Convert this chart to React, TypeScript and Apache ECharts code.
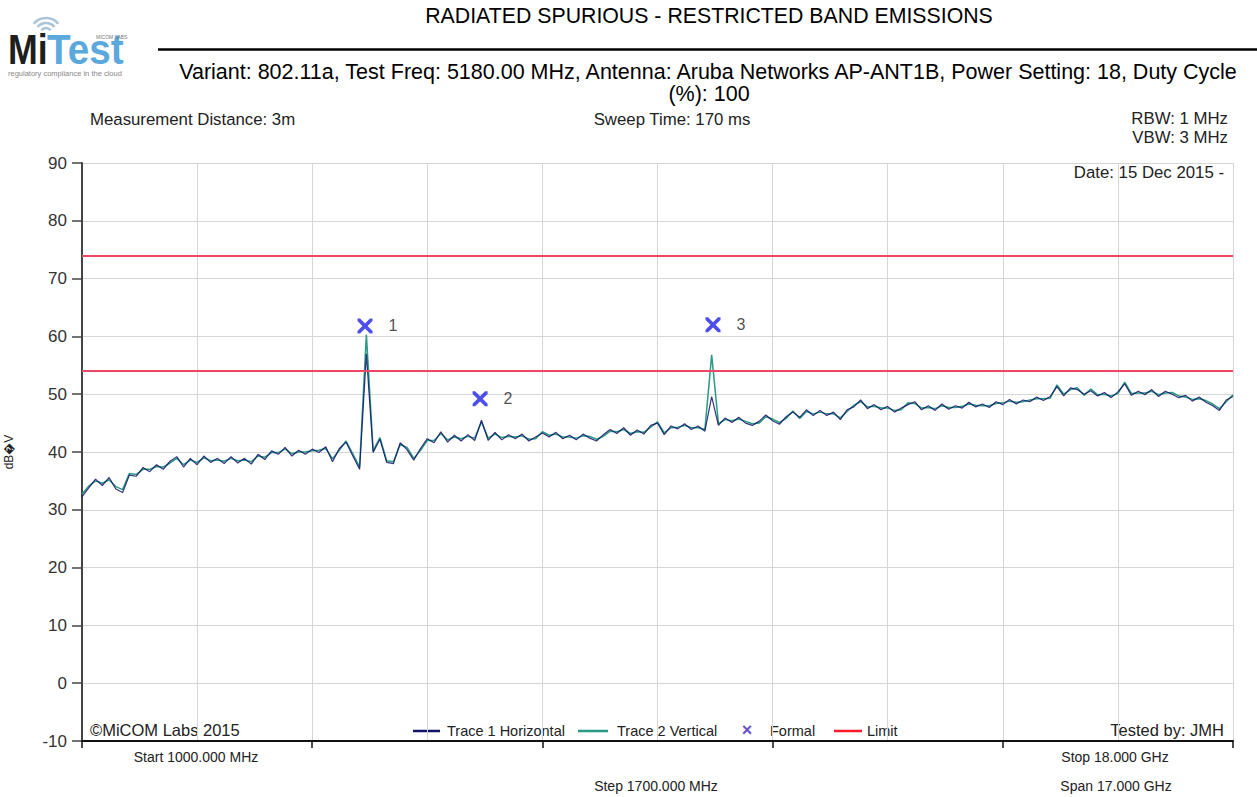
import React, { useEffect, useRef } from "react";
import * as echarts from "echarts";

// ---------- data ----------
const START_MHZ = 1000;
const STOP_MHZ = 18000;
const GRID_STEP_MHZ = 1700;
const TICK_STEP_MHZ = 3400;
const SAMPLE_STEP_MHZ = 100;

const yTicksMin = -10;
const yTicksMax = 90;
const yTickStep = 10;

// Trace 1 Horizontal (dBuV), one sample every 100 MHz from 1000 MHz
const trace1Horizontal = [
  32.3, 33.8, 35.3, 34.2, 35.6, 33.6, 33.0, 36.0, 35.8, 37.3,
  36.6, 37.8, 37.0, 38.4, 39.2, 37.4, 38.9, 37.8, 39.3, 38.2,
  38.9, 38.0, 39.2, 38.1, 38.9, 37.9, 39.6, 38.7, 40.2, 39.6,
  40.8, 39.3, 40.3, 39.6, 40.5, 39.9, 40.9, 38.3, 40.6, 41.7,
  39.3, 37.0, 57.0, 39.9, 42.2, 38.2, 38.0, 41.6, 40.4, 38.6,
  40.6, 42.3, 41.6, 43.5, 41.7, 42.9, 41.9, 43.0, 42.0, 45.5,
  42.0, 43.4, 42.1, 43.0, 42.3, 43.1, 41.9, 42.6, 43.3, 42.6,
  43.4, 42.3, 42.9, 42.1, 43.1, 42.4, 41.9, 43.0, 43.9, 43.2,
  44.2, 42.9, 43.8, 43.1, 44.6, 45.0, 43.0, 44.5, 44.0, 44.9,
  43.9, 44.5, 43.6, 49.6, 44.6, 45.9, 45.1, 46.0, 45.0, 44.6,
  45.3, 46.4, 45.4, 44.8, 46.1, 46.9, 46.0, 47.3, 46.3, 47.2,
  46.3, 46.9, 45.6, 47.3, 47.8, 49.0, 47.5, 48.2, 47.3, 47.9,
  46.9, 47.6, 48.2, 48.7, 47.3, 48.0, 47.2, 48.3, 47.4, 48.0,
  47.6, 48.6, 47.8, 48.3, 47.7, 48.7, 48.2, 49.1, 48.3, 49.0,
  48.7, 49.5, 48.9, 49.6, 51.3, 49.7, 51.1, 50.8, 50.0, 50.6,
  49.7, 50.3, 49.4, 50.4, 51.8, 49.8, 50.5, 49.9, 50.8, 49.6,
  50.5, 50.0, 49.4, 49.8, 48.8, 49.5, 48.6, 48.0, 47.2, 49.0,
  49.6,
];

// Trace 2 Vertical (dBuV)
const trace2Vertical = [
  32.7, 34.1, 35.0, 34.6, 35.2, 34.0, 33.5, 36.3, 36.1, 37.0,
  37.0, 37.5, 37.4, 38.1, 38.9, 37.8, 38.6, 38.2, 39.0, 38.5,
  38.6, 38.4, 38.9, 38.5, 38.6, 38.3, 39.3, 39.1, 39.9, 39.9,
  40.5, 39.7, 40.0, 40.0, 40.2, 40.3, 40.6, 38.8, 40.3, 41.9,
  39.7, 37.4, 60.3, 40.2, 42.5, 38.5, 38.3, 41.3, 40.8, 38.9,
  40.3, 42.0, 42.0, 43.2, 42.1, 42.6, 42.3, 42.7, 42.4, 45.2,
  42.4, 43.1, 42.5, 42.7, 42.6, 42.8, 42.2, 42.3, 43.5, 42.9,
  43.1, 42.6, 42.6, 42.4, 42.8, 42.7, 42.2, 42.7, 43.6, 43.5,
  43.9, 43.2, 43.5, 43.4, 44.3, 45.2, 43.3, 44.2, 44.3, 44.6,
  44.2, 44.2, 43.9, 56.8, 44.9, 45.6, 45.4, 45.7, 45.3, 44.9,
  45.0, 46.1, 45.7, 45.1, 45.8, 47.1, 45.8, 47.0, 46.6, 46.9,
  46.6, 46.6, 45.9, 47.0, 48.1, 48.7, 47.8, 47.9, 47.6, 47.6,
  47.2, 47.3, 48.5, 48.4, 47.6, 47.7, 47.5, 48.0, 47.7, 47.7,
  47.9, 48.3, 48.1, 48.0, 48.0, 48.4, 48.5, 48.8, 48.6, 48.7,
  49.0, 49.2, 49.2, 49.3, 51.6, 50.0, 50.8, 51.1, 49.8, 50.9,
  49.9, 50.0, 49.7, 50.1, 52.1, 50.1, 50.2, 50.2, 50.5, 49.9,
  50.2, 50.3, 49.7, 49.5, 49.1, 49.2, 48.9, 48.3, 47.5, 48.7,
  49.9,
];

const formalFreqMHz = [5180, 6880, 10320];
const formalLevel = [61.8, 49.2, 62.0];
const formalLabels = ["1", "2", "3"];

const limitLevels = [74, 54];

// ---------- styles ----------
const FONT = "'Liberation Sans', Arial, Helvetica, sans-serif";
const C_TRACE1 = "#12126a";
const C_TRACE2 = "#2a9a84";
const C_LIMIT = "#ef4664";
const C_FORMAL = "#2222e6";
const X_SHAPE =
  "path://M0,0 L2.4,0 L7,4.6 L11.6,0 L14,0 L14,2.4 L9.4,7 L14,11.6 L14,14 L11.6,14 L7,9.4 L2.4,14 L0,14 L0,11.6 L4.6,7 L0,2.4 Z";

function txt(text: string, x: number, y: number, size: number, align: string = "left", fill = "#222", extra: any = {}) {
  return {
    type: "text",
    x,
    y,
    silent: true,
    style: {
      text,
      fontSize: size,
      fontFamily: FONT,
      fill,
      align,
      verticalAlign: "middle",
      ...extra,
    },
  };
}

function hline(x1: number, x2: number, y: number, color: string, w: number) {
  return {
    type: "line",
    silent: true,
    shape: { x1, y1: y, x2, y2: y },
    style: { stroke: color, lineWidth: w },
  };
}

export default function App() {
  const ref = useRef<HTMLDivElement>(null);

  useEffect(() => {
    if (!ref.current) return;
    const chart = echarts.init(ref.current, undefined, { renderer: "svg" });

    const toX = (f: number) => f - START_MHZ;
    const t1 = trace1Horizontal.map((v, i) => [toX(START_MHZ + i * SAMPLE_STEP_MHZ), v]);
    const t2 = trace2Vertical.map((v, i) => [toX(START_MHZ + i * SAMPLE_STEP_MHZ), v]);
    const formal = formalFreqMHz.map((f, i) => ({
      value: [toX(f), formalLevel[i]],
      label: { formatter: formalLabels[i] },
    }));

    const arcs = [6, 11, 16].map((r) => ({
      type: "arc",
      silent: true,
      shape: { cx: 46, cy: 34, r, startAngle: -Math.PI * 0.78, endAngle: -Math.PI * 0.22, clockwise: true },
      style: { stroke: "#a9c3d8", lineWidth: 2.5, fill: null },
    }));

    const option: any = {
      animation: false,
      backgroundColor: "#ffffff",
      textStyle: { fontFamily: FONT },
      grid: { left: 82, right: 24, top: 163, bottom: 56, containLabel: false, outerBoundsMode: "none" },
      xAxis: [
        {
          type: "value",
          min: 0,
          max: STOP_MHZ - START_MHZ,
          interval: GRID_STEP_MHZ,
          axisLine: { show: true, onZero: false, lineStyle: { color: "#111", width: 2 } },
          axisTick: { show: false },
          axisLabel: { show: false },
          splitLine: { show: true, lineStyle: { color: "#d6d6d6", width: 1 } },
        },
        {
          type: "value",
          position: "bottom",
          min: 0,
          max: STOP_MHZ - START_MHZ,
          interval: TICK_STEP_MHZ,
          axisLine: { show: false, onZero: false },
          axisTick: { show: true, length: 7, lineStyle: { color: "#111", width: 1.5 } },
          axisLabel: { show: false },
          splitLine: { show: false },
        },
      ],
      yAxis: {
        type: "value",
        min: yTicksMin,
        max: yTicksMax,
        interval: yTickStep,
        name: "dB\uFFFDV",
        nameLocation: "middle",
        nameGap: 67,
        nameRotate: 90,
        nameTextStyle: { fontSize: 12, color: "#222", fontFamily: FONT },
        axisLine: { show: true, lineStyle: { color: "#444", width: 2 } },
        axisTick: { show: true, length: 10, lineStyle: { color: "#444", width: 1.5 } },
        axisLabel: { color: "#333", fontSize: 17, margin: 15, fontFamily: FONT },
        splitLine: { show: true, lineStyle: { color: "#d6d6d6", width: 1 } },
      },
      series: [
        {
          name: "Limit",
          type: "line",
          data: [],
          markLine: {
            silent: true,
            symbol: "none",
            label: { show: false },
            lineStyle: { color: C_LIMIT, width: 2, type: "solid" },
            data: limitLevels.map((l) => ({ yAxis: l })),
          },
        },
        {
          name: "Trace 2 Vertical",
          type: "line",
          data: t2,
          showSymbol: false,
          symbol: "none",
          lineStyle: { color: C_TRACE2, width: 1.5 },
          z: 3,
        },
        {
          name: "Trace 1 Horizontal",
          type: "line",
          data: t1,
          showSymbol: false,
          symbol: "none",
          lineStyle: { color: C_TRACE1, width: 1.2, opacity: 0.85 },
          z: 4,
        },
        {
          name: "Formal",
          type: "scatter",
          data: formal,
          symbol: X_SHAPE,
          symbolSize: 15,
          itemStyle: { color: C_FORMAL },
          label: {
            show: true,
            position: "right",
            distance: 16,
            color: "#222",
            fontSize: 16,
            fontFamily: FONT,
          },
          z: 5,
        },
      ],
      graphic: [
        // logo
        ...arcs,
        {
          type: "text",
          x: 8,
          y: 49,
          scaleX: 0.85,
          silent: true,
          style: { text: "Mi", fontSize: 42, fontWeight: "bold", fontFamily: FONT, fill: "#1e1e1e", verticalAlign: "middle" },
        },
        {
          type: "text",
          x: 47,
          y: 49,
          scaleX: 0.92,
          silent: true,
          style: { text: "Test", fontSize: 42, fontWeight: "bold", fontFamily: FONT, fill: "#5aa8dc", verticalAlign: "middle" },
        },
        txt("MICOM LABS", 96, 37, 5, "left", "#777"),
        txt("regulatory compliance in the cloud", 8, 73, 7.5, "left", "#888"),
        // header
        txt("RADIATED SPURIOUS - RESTRICTED BAND EMISSIONS", 709, 16, 21.3, "center", "#000"),
        hline(158, 1257, 49.5, "#000", 2.5),
        txt(
          "Variant: 802.11a, Test Freq: 5180.00 MHz, Antenna: Aruba Networks AP-ANT1B, Power Setting: 18, Duty Cycle",
          708,
          72,
          21.5,
          "center",
          "#000"
        ),
        txt("(%): 100", 709, 94, 21.5, "center", "#000"),
        txt("Measurement Distance: 3m", 90, 119, 16.8, "left", "#222"),
        txt("Sweep Time: 170 ms", 672, 119, 16.8, "center", "#222"),
        txt("RBW: 1 MHz", 1228, 118, 16.8, "right", "#222"),
        txt("VBW: 3 MHz", 1228, 137, 16.8, "right", "#222"),
        txt("Date: 15 Dec 2015 -", 1224, 172, 16.8, "right", "#222"),
        // footer inside plot
        txt("\u00A9MiCOM Labs 2015", 90, 730, 16.5, "left", "#222"),
        hline(413, 440, 731, C_TRACE1, 2.5),
        txt("Trace 1 Horizontal", 447, 731, 14.5, "left", "#222"),
        hline(578, 608, 731, C_TRACE2, 2.5),
        txt("Trace 2 Vertical", 617, 731, 14.5, "left", "#222"),
        txt("\u00D7", 747, 730, 18, "center", "#6a52c8", { fontWeight: "bold" }),
        txt("Formal", 770, 731, 14.5, "left", "#222"),
        hline(834, 862, 731, "#ff1a2a", 2.5),
        txt("Limit", 867, 731, 14.5, "left", "#222"),
        txt("Tested by: JMH", 1224, 730, 16.5, "right", "#222"),
        // below axis
        txt("Start 1000.000 MHz", 196, 757, 14, "center", "#222"),
        txt("Stop 18.000 GHz", 1115, 757, 14, "center", "#222"),
        txt("Step 1700.000 MHz", 656, 786, 14, "center", "#222"),
        txt("Span 17.000 GHz", 1116, 786, 14, "center", "#222"),
      ],
    };

    chart.setOption(option);
    return () => chart.dispose();
  }, []);

  return (
    <div
      ref={ref}
      style={{ position: "fixed", left: 0, top: 0, width: 1257, height: 797, background: "#fff" }}
    />
  );
}
